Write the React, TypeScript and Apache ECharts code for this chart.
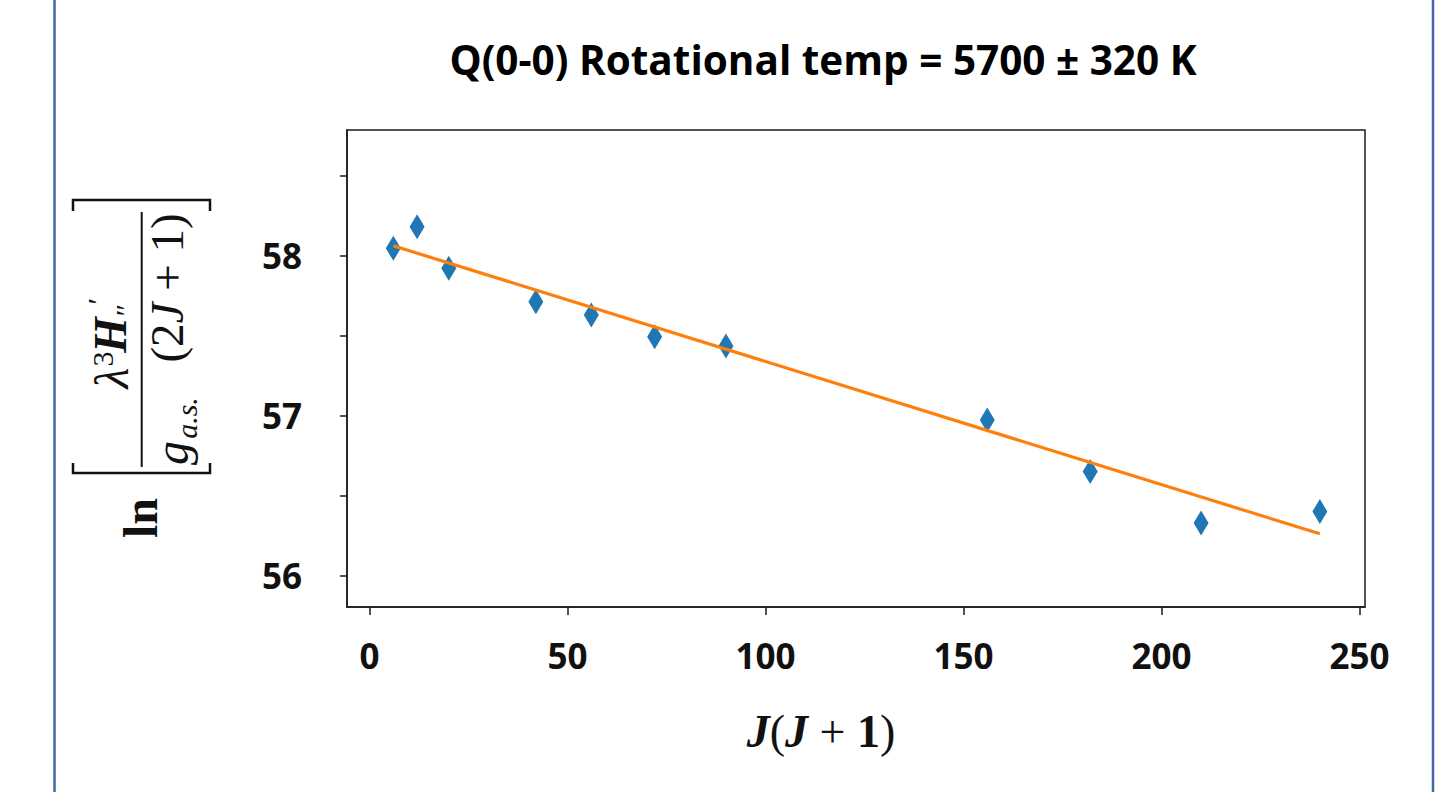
import React, { useEffect, useRef } from "react";
import * as echarts from "echarts";

const titleText = "Q(0-0) Rotational temp = 5700 ± 320 K";
const jj = [6, 12, 20, 42, 56, 72, 90, 156, 182, 210, 240];
const lnVals = [58.046, 58.181, 57.921, 57.713, 57.63, 57.494, 57.436, 56.974, 56.652, 56.33, 56.402];
const fitX = [6, 240];
const fitY = [58.062, 56.263];
const xTicks = [0, 50, 100, 150, 200, 250];
const yTicks = [56, 56.5, 57, 57.5, 58, 58.5];
const yLabels = [56, 57, 58];

const SERIF = "'Liberation Serif', 'DejaVu Serif', serif";
const SANS = "'Open Sans', 'Noto Sans', sans-serif";

export default function App() {
  const ref = useRef<HTMLDivElement>(null);
  useEffect(() => {
    if (!ref.current) return;
    const chart = echarts.init(ref.current, undefined, { renderer: "svg" });
    const rot = Math.PI / 2;
    const option: any = {
      animation: false,
      backgroundColor: "#ffffff",
      grid: {
        left: 347,
        right: 87,
        top: 130,
        bottom: 185,
        show: true,
        borderColor: "#1a1a1a",
        borderWidth: 1.5,
        backgroundColor: "transparent",
      },
      xAxis: {
        type: "value",
        min: -5.7,
        max: 251.4,
        splitLine: { show: false },
        axisLine: { show: true, onZero: false, lineStyle: { color: "#1a1a1a", width: 1.5 } },
        axisTick: { show: true, length: 8, customValues: xTicks, lineStyle: { color: "#1a1a1a", width: 1.5 } },
        axisLabel: {
          customValues: xTicks,
          margin: 31,
          color: "#111",
          fontFamily: SANS,
          fontWeight: "bold",
          fontSize: 35,
        },
      },
      yAxis: {
        type: "value",
        min: 55.806,
        max: 58.785,
        splitLine: { show: false },
        axisLine: { show: true, onZero: false, lineStyle: { color: "#1a1a1a", width: 1.5 } },
        axisTick: { show: true, length: 7, customValues: yTicks, lineStyle: { color: "#1a1a1a", width: 1.5 } },
        axisLabel: {
          customValues: yLabels,
          margin: 45,
          color: "#111",
          fontFamily: SANS,
          fontWeight: "bold",
          fontSize: 35,
        },
      },
      series: [
        {
          type: "scatter",
          data: jj.map((x, i) => [x, lnVals[i]]),
          symbol: "diamond",
          symbolSize: [15, 25],
          itemStyle: { color: "#1f77b4", opacity: 1 },
          z: 2,
        },
        {
          type: "line",
          data: fitX.map((x, i) => [x, fitY[i]]),
          showSymbol: false,
          symbol: "none",
          lineStyle: { color: "#ff7f0e", width: 3.2 },
          z: 3,
        },
      ],
      graphic: [
        { type: "line", shape: { x1: 54.5, y1: 0, x2: 54.5, y2: 792 }, style: { stroke: "#4566a8", lineWidth: 2.5 } },
        { type: "line", shape: { x1: 1433, y1: 0, x2: 1433, y2: 792 }, style: { stroke: "#4566a8", lineWidth: 2.5 } },
        {
          type: "text",
          x: 823,
          y: 59,
          style: {
            text: titleText,
            font: `bold 40.5px ${SANS}`,
            fill: "#000",
            align: "center",
            verticalAlign: "middle",
          },
        },
        // y-axis label brackets and fraction line
        { type: "polyline", shape: { points: [[73, 211], [73, 200], [210, 200], [210, 211]] }, style: { stroke: "#111", lineWidth: 2.5, fill: "none" } },
        { type: "polyline", shape: { points: [[73, 463], [73, 473], [210, 473], [210, 463]] }, style: { stroke: "#111", lineWidth: 2.5, fill: "none" } },
        { type: "line", shape: { x1: 141.7, y1: 212, x2: 141.7, y2: 467 }, style: { stroke: "#111", lineWidth: 2 } },
        { type: "text", x: 140, y: 518, rotation: rot, style: { text: "ln", font: `bold 48px ${SERIF}`, fill: "#111", align: "center", verticalAlign: "middle" } },
        { type: "text", x: 111, y: 378, rotation: rot, style: { text: "λ", font: `italic 48px ${SERIF}`, fill: "#111", align: "center", verticalAlign: "middle" } },
        { type: "text", x: 102, y: 359, rotation: rot, style: { text: "3", font: `30px ${SERIF}`, fill: "#111", align: "center", verticalAlign: "middle" } },
        { type: "text", x: 110, y: 335, rotation: rot, style: { text: "H", font: `bold italic 46px ${SERIF}`, fill: "#111", align: "center", verticalAlign: "middle" } },
        { type: "text", x: 97, y: 303, rotation: rot, style: { text: "′", font: `italic 30px ${SERIF}`, fill: "#111", align: "center", verticalAlign: "middle" } },
        { type: "text", x: 125, y: 312, rotation: rot, style: { text: "″", font: `italic 30px ${SERIF}`, fill: "#111", align: "center", verticalAlign: "middle" } },
        { type: "text", x: 171, y: 453, rotation: rot, style: { text: "g", font: `italic 48px ${SERIF}`, fill: "#111", align: "center", verticalAlign: "middle" } },
        { type: "text", x: 186, y: 418, rotation: rot, style: { text: "a.s.", font: `italic 30px ${SERIF}`, fill: "#111", align: "center", verticalAlign: "middle" } },
        {
          type: "text",
          x: 167,
          y: 288,
          rotation: rot,
          style: {
            text: "{r|(2}{i|J}{r| + 1)}",
            align: "center",
            verticalAlign: "middle",
            rich: {
              r: { font: `47px ${SERIF}`, fill: "#111" },
              i: { font: `italic 47px ${SERIF}`, fill: "#111" },
            },
          },
        },
        {
          type: "text",
          x: 821,
          y: 731,
          style: {
            text: "{bi|J}{r|(}{bi|J}{r| + }{b|1}{r|)}",
            align: "center",
            verticalAlign: "middle",
            rich: {
              bi: { font: `bold italic 46px ${SERIF}`, fill: "#111" },
              r: { font: `46px ${SERIF}`, fill: "#111" },
              b: { font: `bold 46px ${SERIF}`, fill: "#111" },
            },
          },
        },
      ],
    };
    chart.setOption(option);
    return () => chart.dispose();
  }, []);
  return (
    <div
      ref={ref}
      style={{ position: "fixed", left: 0, top: 0, width: 1452, height: 792, background: "#fff" }}
    />
  );
}
